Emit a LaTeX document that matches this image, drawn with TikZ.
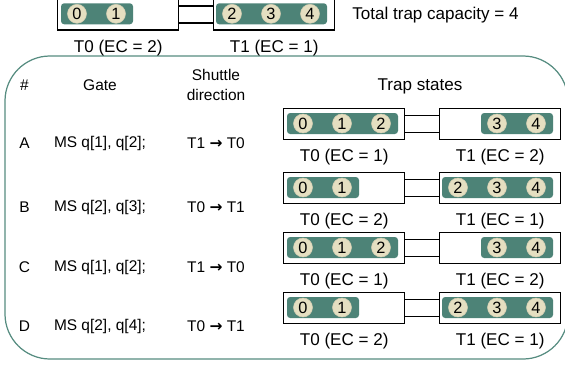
\documentclass[tikz,border=0pt]{standalone}
\usepackage{fontspec}
\setmainfont{Liberation Sans}
\newfontfamily\arrowfont{DejaVu Sans}
\usetikzlibrary{positioning}
\definecolor{chaingreen}{RGB}{77,131,119}
\definecolor{ionbeige}{RGB}{229,223,193}
\definecolor{framegreen}{RGB}{86,140,128}
\newcommand{\shuttle}{{\arrowfont\bfseries →}}

\begin{document}
\begin{tikzpicture}[
  trapbox/.style={draw=black, line width=0.8pt, fill=white, minimum width=2.42cm,
    minimum height=0.62cm, inner sep=0pt, anchor=north west},
  ion/.style={circle, fill=ionbeige, draw=ionbeige!92!black, line width=0.3pt,
    minimum size=0.38cm, inner sep=0pt, font=\fontsize{9.3}{10}\selectfont},
  chain/.style={fill=chaingreen, rounded corners=1.8pt},
  bridge/.style={line width=0.8pt},
  lbl/.style={font=\fontsize{9.7}{11.6}\selectfont, inner sep=0pt},
  coltext/.style={font=\fontsize{8.8}{11.2}\selectfont, inner sep=0pt, align=center},
]
  % Page frame
  \useasboundingbox (0,0) rectangle (11.3,-7.36);

  % Table frame
  \draw[framegreen, line width=0.7pt, rounded corners=0.9cm] (0.1,-1.12) rectangle (11.36,-7.18);

  % Column headers
  \node[coltext] (hnum) at (0.49,-1.7) {\#};
  \node[coltext] (hgate) at (2.0,-1.7) {Gate};
  \node[coltext] (hdir) at (4.32,-1.7) {Shuttle\\direction};
  \node[lbl] (hstates) at (8.4,-1.72) {Trap states};

  % Gate rows
  \foreach \row/\yy/\gate/\dir in {A/-2.86/{MS q[1], q[2];}/{T1 \shuttle{} T0},
      B/-4.14/{MS q[2], q[3];}/{T0 \shuttle{} T1}, C/-5.34/{MS q[1], q[2];}/{T1 \shuttle{} T0},
      D/-6.52/{MS q[2], q[4];}/{T0 \shuttle{} T1}} {
    \node[coltext] (\row-id) at (0.49,\yy) {\row};
    \node[coltext] (\row-gate) at (2.0,\yy) {\gate};
    \node[coltext] (\row-dir) at (4.32,\yy) {\dir};
  }

  % Trap pairs (nl = ions held in T0)
  \foreach \name/\xx/\yy/\nl in {top/1.14/0.034/2, A/5.66/-2.16/3, B/5.66/-3.44/2,
      C/5.66/-4.64/3, D/5.66/-5.84/2} {
    \pgfmathtruncatemacro{\lastl}{\nl-1}
    \pgfmathtruncatemacro{\ecl}{4-\nl}
    \pgfmathtruncatemacro{\ecr}{\nl-1}
    \node[trapbox] (\name-t0) at (\xx,\yy) {};
    \node[trapbox] (\name-t1) at (\xx+3.12,\yy) {};
    \draw[bridge] ([yshift=0.17cm]\name-t0.east) -- ([yshift=0.17cm]\name-t1.west)
                  ([yshift=-0.17cm]\name-t0.east) -- ([yshift=-0.17cm]\name-t1.west);
    \fill[chain] (\xx+0.08,\yy-0.1) rectangle ({\xx+0.74+0.78*\lastl},\yy-0.52);
    \fill[chain] ({\xx+3.18+0.78*(\nl-2)},\yy-0.1) rectangle (\xx+5.4,\yy-0.52);
    \foreach \i in {0,...,4} {
      \pgfmathsetmacro{\ix}{\i<\nl ? \xx+0.4+0.78*\i : \xx+3.5+0.78*(\i-2)}
      \node[ion] (\name-q\i) at (\ix,\yy-0.31) {\i};
    }
    \node[lbl] (\name-l0) at ([yshift=-0.34cm]\name-t0.south) {T0 (EC = \ecl)};
    \node[lbl] (\name-l1) at ([yshift=-0.34cm]\name-t1.south) {T1 (EC = \ecr)};
  }

  % Capacity note
  \node[lbl, anchor=west] (cap) at (7.04,-0.3) {Total trap capacity = 4};
\end{tikzpicture}
\end{document}
